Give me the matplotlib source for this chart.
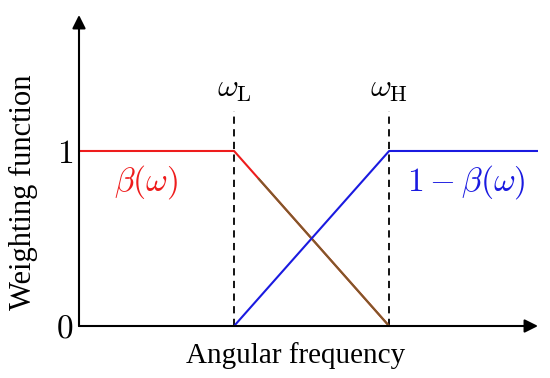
import matplotlib
matplotlib.use('Agg')
import matplotlib.pyplot as plt

plt.rcParams['mathtext.fontset'] = 'cm'
plt.rcParams['font.family'] = 'Liberation Serif'

# weighting curves (x in units where omega_L = 1, omega_H = 2)
beta_x = [0, 1, 2]
beta_y = [1, 1, 0]
comp_x = [1, 2, 2.96]
comp_y = [0, 1, 1]
# part of the falling line drawn brown in the picture
brown_x = [1.16, 2]
brown_y = [0.84, 0]

cut_x = [1, 2]
cut_labels = [r'$\omega_{\mathrm{L}}$', r'$\omega_{\mathrm{H}}$']
cut_top = 1.23

fig = plt.figure(figsize=(5.5, 3.78), dpi=100)
ax = fig.add_axes([79/550, (378-326)/378, (538-79)/550, (326-15)/378])
ax.set_xlim(0, 2.96)
ax.set_ylim(0, 1.777)

for s in ['top', 'right', 'left', 'bottom']:
    ax.spines[s].set_visible(False)

# axes with arrow heads
ax.annotate('', xy=(1, 0), xytext=(0, 0), xycoords='axes fraction',
            arrowprops=dict(arrowstyle='-|>', color='black', lw=1.5,
                            mutation_scale=20, shrinkA=0, shrinkB=0))
ax.annotate('', xy=(0, 1), xytext=(0, 0), xycoords='axes fraction',
            arrowprops=dict(arrowstyle='-|>', color='black', lw=1.5,
                            mutation_scale=20, shrinkA=0, shrinkB=0))

for cx, lab in zip(cut_x, cut_labels):
    ax.plot([cx, cx], [0, cut_top], color='black', lw=1.3, ls=(0, (4, 3)))
    ax.text(cx, 1.35, lab, ha='center', va='center', fontsize=23)

ax.plot(beta_x, beta_y, color='#ee1c1c', lw=1.5)
ax.plot(brown_x, brown_y, color='#7f5a2a', lw=1.5)
ax.plot(comp_x, comp_y, color='#1a1ae0', lw=1.5)

ax.text(0.43, 0.82, r'$\beta(\omega)$', color='#ee1c1c', ha='center', va='center', fontsize=24)
ax.text(2.50, 0.82, r'$1-\beta(\omega)$', color='#1a1ae0', ha='center', va='center', fontsize=24)

ax.set_xticks([])
ax.set_yticks([0, 1])
ax.set_yticklabels([r'$0$', r'$1$'], fontsize=24)
ax.tick_params(axis='y', length=0, pad=4)

ax.set_xlabel('Angular frequency', fontsize=21)
ax.xaxis.set_label_coords(0.473, -0.095, transform=ax.transAxes)
ax.xaxis.label.set_va('center')
ax.set_ylabel('Weighting function', fontsize=22)
ax.yaxis.set_label_coords(-0.12, 0.43, transform=ax.transAxes)
ax.yaxis.label.set_va('center')

plt.savefig('out.png', dpi=100)
